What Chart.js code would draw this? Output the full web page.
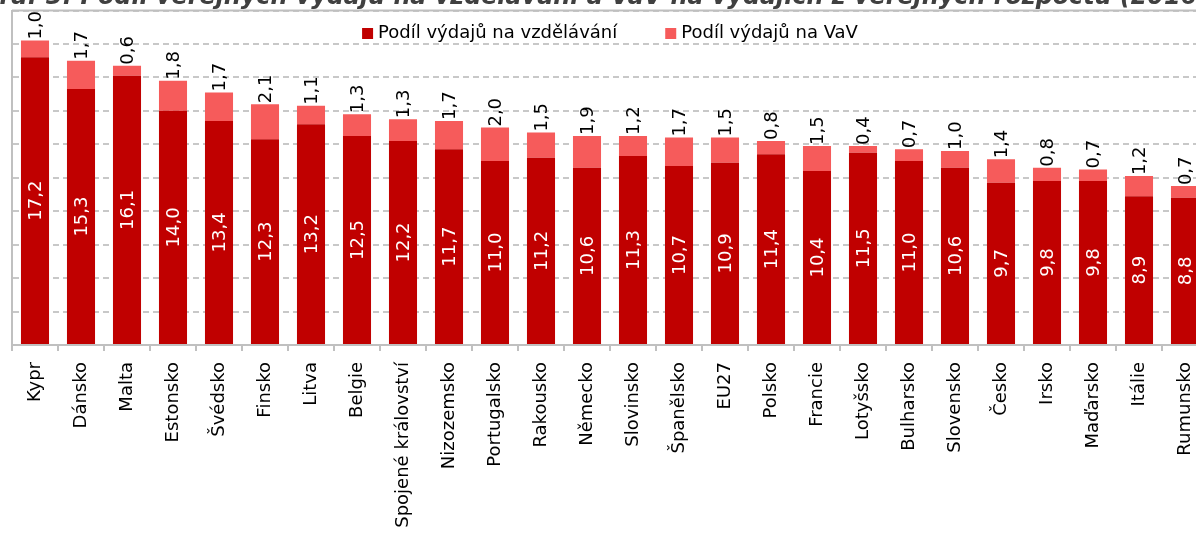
<!DOCTYPE html>
<html>
<head>
<meta charset="utf-8">
<script src="https://cdn.jsdelivr.net/npm/chart.js@4/dist/chart.umd.min.js"></script>
<style>
  html, body { margin: 0; padding: 0; background: #fff; overflow: hidden; }
  #wrap { position: absolute; left: -20px; top: -14px; width: 1230px; height: 562px; }
</style>
</head>
<body>
<div id="wrap"><canvas id="myChart"></canvas></div>
<script>
const titleText = 'Graf 3: Podíl veřejných výdajů na vzdělávání a VaV na výdajích z veřejných rozpočtů (2016)';
const categories = ['Kypr', 'Dánsko', 'Malta', 'Estonsko', 'Švédsko', 'Finsko', 'Litva', 'Belgie',
  'Spojené království', 'Nizozemsko', 'Portugalsko', 'Rakousko', 'Německo', 'Slovinsko', 'Španělsko',
  'EU27', 'Polsko', 'Francie', 'Lotyšsko', 'Bulharsko', 'Slovensko', 'Česko', 'Irsko', 'Maďarsko',
  'Itálie', 'Rumunsko'];
const eduValues = [17.2, 15.3, 16.1, 14.0, 13.4, 12.3, 13.2, 12.5, 12.2, 11.7, 11.0, 11.2, 10.6, 11.3,
  10.7, 10.9, 11.4, 10.4, 11.5, 11.0, 10.6, 9.7, 9.8, 9.8, 8.9, 8.8];
const rdValues = [1.0, 1.7, 0.6, 1.8, 1.7, 2.1, 1.1, 1.3, 1.3, 1.7, 2.0, 1.5, 1.9, 1.2, 1.7, 1.5, 0.8,
  1.5, 0.4, 0.7, 1.0, 1.4, 0.8, 0.7, 1.2, 0.7];
const seriesNames = ['Podíl výdajů na vzdělávání', 'Podíl výdajů na VaV'];
const yMin = 0, yMax = 20, yStep = 2;

const FONT = '"DejaVu Sans", Verdana, sans-serif';
const fmt = (v) => v.toFixed(1).replace('.', ',');

// labels, legend and top frame line
const extras = {
  id: 'extras',
  afterDatasetsDraw(chart) {
    const ctx = chart.ctx;
    const area = chart.chartArea;
    ctx.save();
    ctx.strokeStyle = '#bfbfbf';
    ctx.lineWidth = 2;
    ctx.beginPath();
    ctx.moveTo(area.left, area.top);
    ctx.lineTo(area.right, area.top);
    ctx.stroke();

    ctx.font = '18px ' + FONT;
    const bottom = chart.getDatasetMeta(0).data;
    const top = chart.getDatasetMeta(1).data;
    bottom.forEach((bar, i) => {
      // white value inside
      const mid = (bar.y + bar.base) / 2;
      ctx.save();
      ctx.translate(bar.x, mid);
      ctx.rotate(-Math.PI / 2);
      ctx.fillStyle = '#ffffff';
      ctx.textAlign = 'center';
      ctx.textBaseline = 'middle';
      ctx.fillText(fmt(eduValues[i]), 0, 1);
      ctx.restore();
      // black value above
      const t = top[i];
      ctx.save();
      ctx.translate(t.x, t.y - 1);
      ctx.rotate(-Math.PI / 2);
      ctx.fillStyle = '#000000';
      ctx.textAlign = 'left';
      ctx.textBaseline = 'middle';
      ctx.fillText(fmt(rdValues[i]), 0, 1);
      ctx.restore();
    });

    // legend, centred in the plot area
    const box = 11, gapText = 5, gapItem = 48;
    const widths = chart.data.datasets.map(d => ctx.measureText(d.label).width);
    let total = 0;
    widths.forEach((w, i) => { total += box + gapText + w + (i ? gapItem : 0); });
    let x = (area.left + area.right) / 2 - total / 2;
    const y = area.top + 23;
    chart.data.datasets.forEach((d, i) => {
      ctx.fillStyle = d.backgroundColor;
      ctx.fillRect(x, y - box / 2, box, box);
      ctx.fillStyle = '#000000';
      ctx.textAlign = 'left';
      ctx.textBaseline = 'middle';
      ctx.fillText(d.label, x + box + gapText, y);
      x += box + gapText + widths[i] + gapItem;
    });
    ctx.restore();
  }
};

const ctx = document.getElementById('myChart').getContext('2d');
const myChart = new Chart(ctx, {
  type: 'bar',
  data: {
    labels: categories,
    datasets: [{
      label: seriesNames[0],
      data: eduValues,
      backgroundColor: '#c00000'
    }, {
      label: seriesNames[1],
      data: rdValues,
      backgroundColor: '#f65b5b'
    }]
  },
  options: {
    responsive: true,
    maintainAspectRatio: false,
    animation: false,
    layout: { padding: { left: 0, right: 2, top: 0, bottom: 0 } },
    datasets: {
      bar: { categoryPercentage: 1, barPercentage: 0.61 }
    },
    plugins: {
      legend: { display: false },
      tooltip: { enabled: false },
      title: {
        display: true,
        text: titleText,
        color: '#404040',
        font: { family: FONT, size: 24, weight: 'bold', style: 'italic', lineHeight: 1 },
        padding: { top: 0, bottom: 0.5 }
      }
    },
    scales: {
      x: {
        stacked: true,
        grid: { display: true, drawOnChartArea: false, drawTicks: true, tickLength: 6, color: '#c0c0c0', lineWidth: 2, offset: true },
        border: { display: true, color: '#c0c0c0', width: 2 },
        ticks: {
          autoSkip: false, minRotation: 90, maxRotation: 90, padding: 11,
          color: '#000000', font: { family: FONT, size: 18 }
        },
        afterFit(scale) {
          scale.height = 203;
          scale.paddingLeft = 0;
          scale.paddingRight = 0;
        }
      },
      y: {
        stacked: true,
        min: yMin,
        max: yMax,
        ticks: { stepSize: yStep, display: false },
        grid: { color: '#c8c8c8', lineWidth: 2, drawTicks: false },
        border: { display: true, color: '#c0c0c0', width: 2, dash: [6, 4] },
        afterFit(scale) { scale.width = 32; }
      }
    }
  },
  plugins: [extras]
});
</script>
</body>
</html>
